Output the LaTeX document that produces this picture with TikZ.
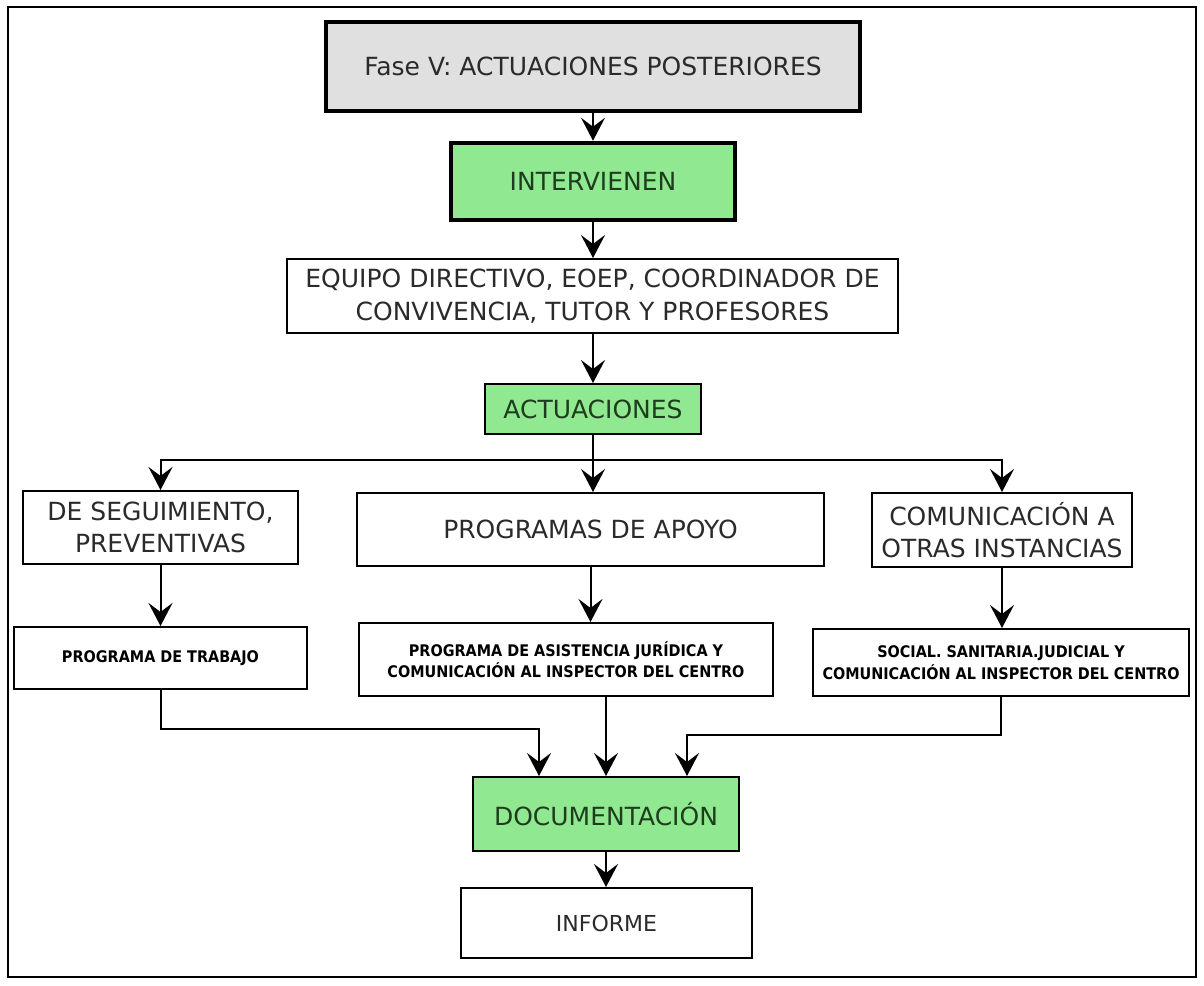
\documentclass[tikz,border=0pt]{standalone}
\usepackage{fontspec}
\setmainfont{DejaVu Sans}
\newfontfamily\smallfont[FakeStretch=0.9]{DejaVu Sans}
\usetikzlibrary{arrows.meta}
\definecolor{faseGray}{HTML}{E0E0E0}
\definecolor{boxGreen}{HTML}{90E890}
\definecolor{txtGreen}{HTML}{1E3D1E}
\definecolor{txtDark}{HTML}{2A2A2A}
\tikzset{
  box/.style={draw=black, line width=2pt, fill=white, inner sep=0pt, align=center,
    text=txtDark, font=\fontsize{25}{32.5}\selectfont},
  heavybox/.style={box, line width=4.5pt},
  greenbox/.style={fill=boxGreen, text=txtGreen},
  smallbox/.style={box, font=\smallfont\fontsize{16}{21.5}\selectfont\bfseries, text=black},
  conn/.style={line width=2pt, draw=black},
  arr/.style={conn, -{Stealth[length=23pt, width=24pt, inset=9pt]}}
}
\begin{document}
\begin{tikzpicture}[x=1pt, y=-1pt]
\useasboundingbox (0,0) rectangle (1204,985);
\draw[line width=1.5pt] (8,7) rectangle (1196,977);

\node[heavybox, fill=faseGray, minimum width=534pt, minimum height=89pt] (fase) at (593,66.5) {Fase V: ACTUACIONES POSTERIORES};
\node[heavybox, greenbox, minimum width=284pt, minimum height=77pt] (interv) at (593,181.5) {INTERVIENEN};
\node[box, minimum width=611pt, minimum height=74pt] (equipo) at (592.5,296) {EQUIPO DIRECTIVO, EOEP, COORDINADOR DE\\CONVIVENCIA, TUTOR Y PROFESORES};
\node[box, greenbox, minimum width=216pt, minimum height=50pt] (act) at (593,409) {ACTUACIONES};

\node[box, minimum width=275pt, minimum height=73pt] (seg) at (160.5,527.5) {DE SEGUIMIENTO,\\PREVENTIVAS};
\node[box, minimum width=467pt, minimum height=73pt] (prog) at (590.5,529.5) {PROGRAMAS DE APOYO};
\node[box, minimum width=260pt, minimum height=74pt] (com) at (1002,530) {COMUNICACIÓN A\\OTRAS INSTANCIAS};

\node[smallbox, minimum width=293pt, minimum height=62pt] (trab) at (160.5,658) {PROGRAMA DE TRABAJO};
\node[smallbox, minimum width=414pt, minimum height=73pt] (asist) at (566,659.5) {PROGRAMA DE ASISTENCIA JURÍDICA Y\\COMUNICACIÓN AL INSPECTOR DEL CENTRO};
\node[smallbox, minimum width=376pt, minimum height=67pt] (soc) at (1001,662.5) {SOCIAL. SANITARIA.JUDICIAL Y\\COMUNICACIÓN AL INSPECTOR DEL CENTRO};

\node[box, greenbox, minimum width=266pt, minimum height=74pt] (doc) at (606,814) {DOCUMENTACIÓN};
\node[box, minimum width=291pt, minimum height=70pt, font=\fontsize{22}{26}\selectfont] (inf) at (606.5,923) {INFORME};

% connectors
\draw[arr] (fase.south) -- (interv.north);
\draw[arr] (interv.south) -- (interv.south |- equipo.north);
\draw[arr] (equipo.south -| act.north) -- (act.north);

\coordinate (hb) at (593,460);
\draw[conn] (act.south) -- (hb);
\draw[arr] (hb) -| (seg.north);
\draw[arr] (hb) -| (com.north);
\draw[arr] (hb) -- (hb |- prog.north);

\draw[arr] (seg.south) -- (trab.north);
\draw[arr] (prog.south) -- (prog.south |- asist.north);
\draw[arr] (com.south) -- (com.south |- soc.north);

\coordinate (jl) at (539,729);
\coordinate (jr) at (687,735);
\draw[arr] (trab.south) |- (jl) -- (jl |- doc.north);
\draw[arr] (asist.south -| doc.north) -- (doc.north);
\draw[arr] (soc.south) |- (jr) -- (jr |- doc.north);

\draw[arr] (doc.south) -- (doc.south |- inf.north);
\end{tikzpicture}
\end{document}
